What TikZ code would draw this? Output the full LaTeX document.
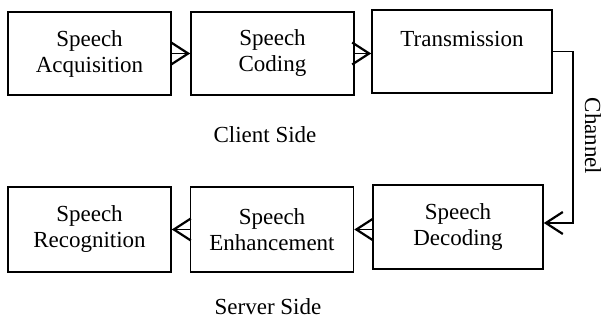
\documentclass[tikz,border=0pt]{standalone}
\usepackage{fontspec}
\setmainfont{Liberation Serif}
\usepackage{tikz}
\usetikzlibrary{arrows.meta,positioning}
\tikzset{
  blockbox/.style={draw, line width=1.6pt, minimum width=163pt, minimum height=83pt,
    align=center, inner sep=0pt, font=\fontsize{23}{26}\selectfont},
  sidelabel/.style={font=\fontsize{23}{26}\selectfont},
  flow/.style={line width=1.7pt, -{Straight Barb[length=17pt,width=22pt,line width=2.2pt]}}
}

\begin{document}
\begin{tikzpicture}[x=1pt, y=-1pt]
  \useasboundingbox (0,0) rectangle (604,320);
  % client side
  \node[blockbox] (acq) at (89.5, 53.5) {Speech\\Acquisition};
  \node[blockbox] (cod) at (272.5, 53.5) {Speech\\Coding};
  \node[blockbox, minimum width=180pt] (tx) at (462, 51.5) {Transmission\\~};
  \node[sidelabel] (client) at (265, 135) {Client Side};
  % server side
  \node[blockbox, minimum width=170pt, minimum height=84pt] (dec) at (458, 227) {Speech\\Decoding};
  \node[blockbox, minimum height=85pt] (enh) at (272, 229.5) {Speech\\Enhancement};
  \node[blockbox, minimum height=85pt] (rec) at (89.5, 229.5) {Speech\\Recognition};
  \node[sidelabel] (server) at (268, 307) {Server Side};
  % channel
  \coordinate (chtop) at (573, 51.5);
  \coordinate (chbot) at (573, 223);
  \node[sidelabel, rotate=-90] (chan) at (593, 136) {Channel};
  \draw[flow] (acq) -- (cod);
  \draw[flow] (cod.east) -- (cod.east -| tx.west);
  \draw[flow] (tx.east) -- (chtop) -- (chbot) -- (chbot -| dec.east);
  \draw[flow] (dec.west |- enh) -- (enh.east);
  \draw[flow] (enh) -- (rec);
\end{tikzpicture}
\end{document}
